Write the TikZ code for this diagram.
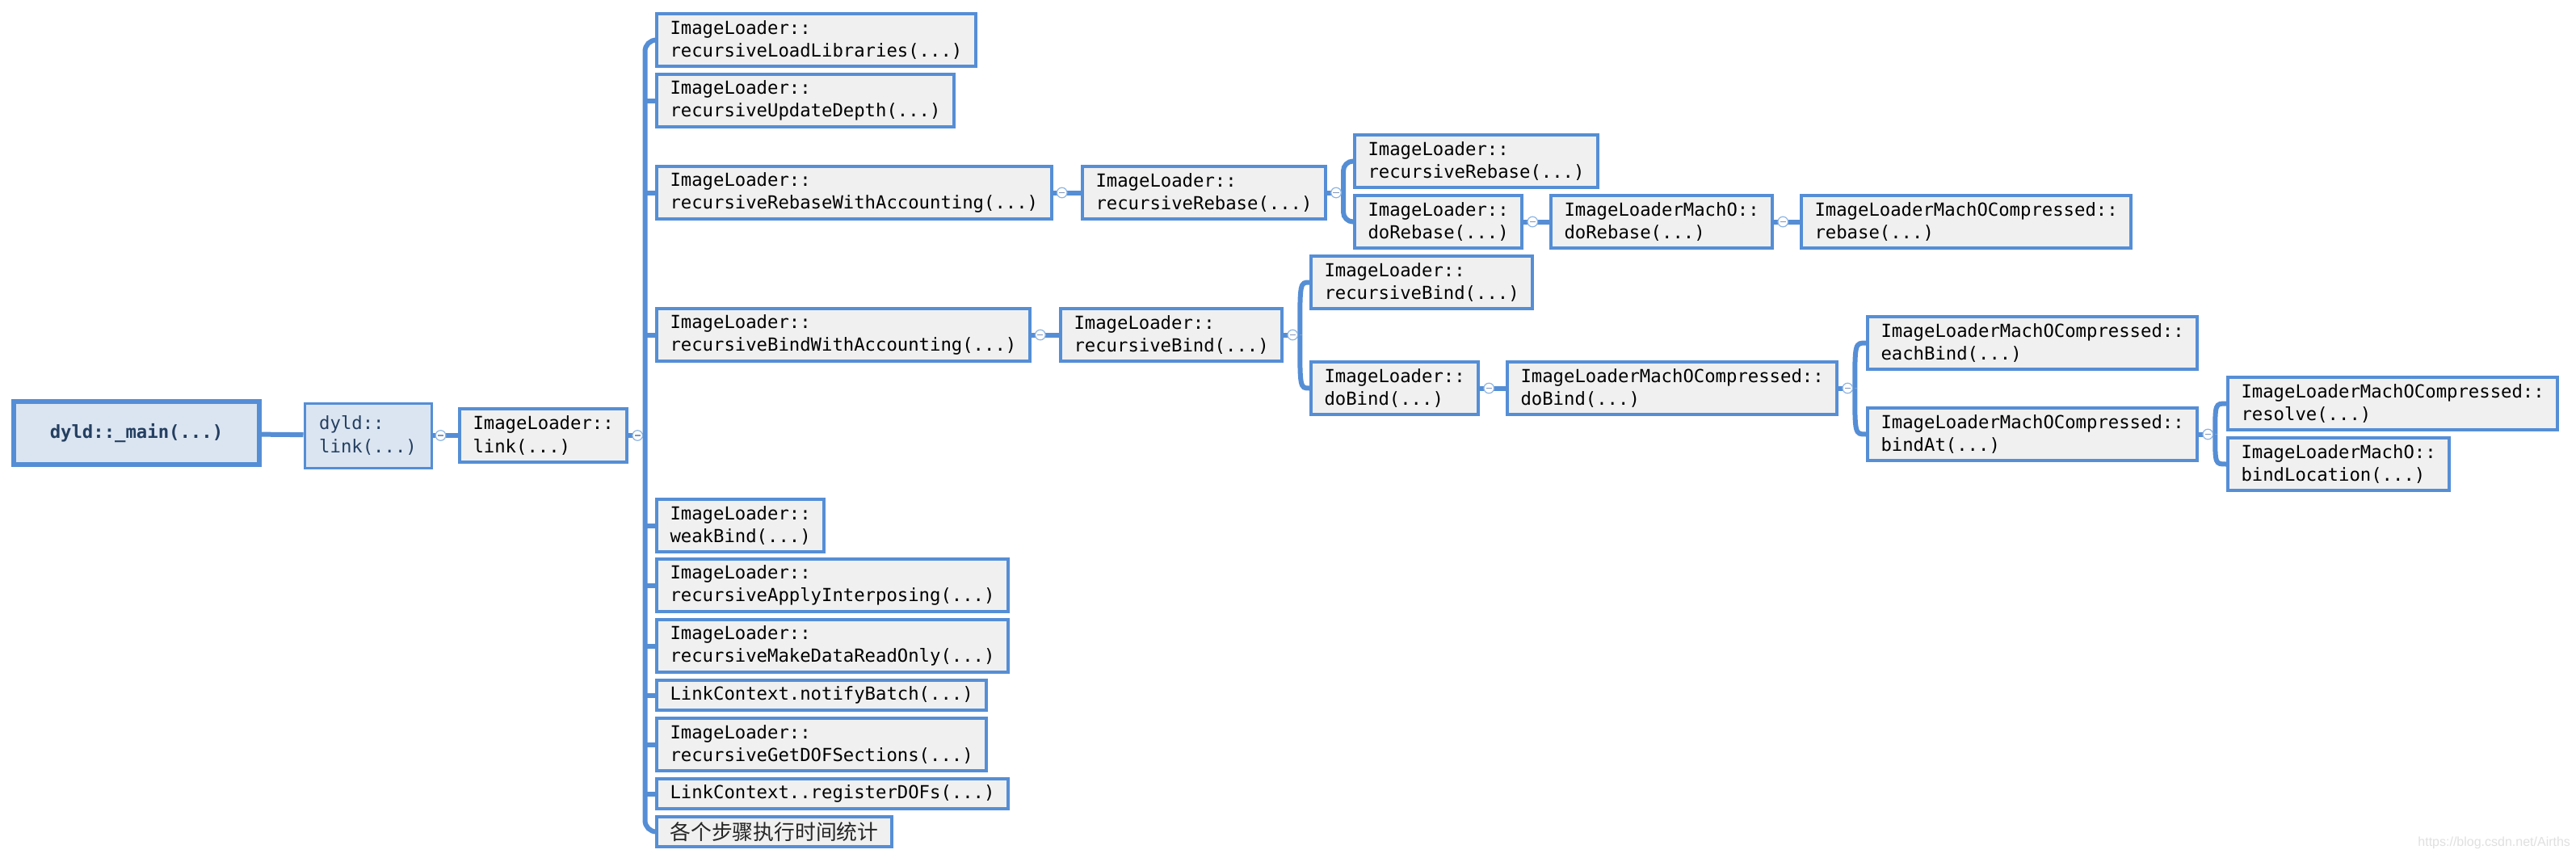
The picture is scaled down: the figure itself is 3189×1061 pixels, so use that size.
\documentclass[tikz,border=0pt]{standalone}
\usepackage{fontspec}
\setmonofont{DejaVu Sans Mono}
\setsansfont{Liberation Sans}
\newfontfamily\cjkfont{Noto Sans CJK SC}
\usetikzlibrary{calc}
\definecolor{bblue}{RGB}{85,142,213}
\definecolor{boxgray}{RGB}{240,240,240}
\definecolor{mainfill}{RGB}{219,229,241}
\definecolor{maintext}{RGB}{36,63,96}
\definecolor{mkblue}{RGB}{141,180,226}
\definecolor{mkminus}{RGB}{130,150,185}
\pgfdeclarelayer{back}
\pgfdeclarelayer{bg}
\pgfsetlayers{back,bg,main}
\tikzset{
  box/.style={draw=bblue, line width=2pt, fill=boxgray, anchor=north west, align=left,
    font=\ttfamily\fontsize{11.13}{14.15}\selectfont, inner xsep=8.25pt, inner ysep=1pt, text=black},
  two/.style={minimum height=32.5pt},
  one/.style={minimum height=18.5pt},
  conn/.style={draw=bblue, line width=3pt},
  mk/.style={circle, draw=mkblue, fill=white, line width=0.6pt, minimum size=6.3pt, inner sep=0pt,
    path picture={\draw[mkminus, line width=0.6pt]
      ([xshift=-1.8pt]path picture bounding box.center) -- ([xshift=1.8pt]path picture bounding box.center);}}
}
\begin{document}
\begin{tikzpicture}[x=0.5pt,y=-0.5pt]
\useasboundingbox (0,0) rectangle (3189,1061);
\begin{pgfonlayer}{back}
\fill[white] (0,0) rectangle (3189,1061);
\end{pgfonlayer}

% root chain
\node[draw=bblue, line width=3pt, fill=mainfill, text=maintext, font=\ttfamily\bfseries\fontsize{11.13}{14.15}\selectfont,
  minimum width=152pt, minimum height=39pt, inner sep=0pt] (main) at (169,536) {dyld::\_main(...)};
\node[box, draw=bblue, line width=1.5pt, fill=mainfill, text=maintext, minimum width=78.5pt, minimum height=40pt] (dyl) at (375.5,497.5) {dyld::\\link(...)};
\node[box, minimum height=33pt] (il) at (567,504) {ImageLoader::\\link(...)};

% first level children
\node[box,two] (c1) at (811,15) {ImageLoader::\\recursiveLoadLibraries(...)};
\node[box,two] (c2) at (811,90) {ImageLoader::\\recursiveUpdateDepth(...)};
\node[box,two] (c3) at (811,204) {ImageLoader::\\recursiveRebaseWithAccounting(...)};
\node[box,two] (c4) at (811,380) {ImageLoader::\\recursiveBindWithAccounting(...)};
\node[box,two] (c5) at (811,616) {ImageLoader::\\weakBind(...)};
\node[box,two] (c6) at (811,690) {ImageLoader::\\recursiveApplyInterposing(...)};
\node[box,two] (c7) at (811,765) {ImageLoader::\\recursiveMakeDataReadOnly(...)};
\node[box,one] (c8) at (811,840) {LinkContext.notifyBatch(...)};
\node[box,two] (c9) at (811,887) {ImageLoader::\\recursiveGetDOFSections(...)};
\node[box,one] (c10) at (811,962) {LinkContext..registerDOFs(...)};
\node[box,one, font=\cjkfont\fontsize{12.9}{15}\selectfont, text=black!85] (c11) at (811,1009) {各个步骤执行时间统计};

% rebase chain
\node[box,two] (r1) at (1338,204) {ImageLoader::\\recursiveRebase(...)};
\node[box,two] (r2) at (1675,165) {ImageLoader::\\recursiveRebase(...)};
\node[box,two] (r3) at (1675,240) {ImageLoader::\\doRebase(...)};
\node[box,two] (r4) at (1918,240) {ImageLoaderMachO::\\doRebase(...)};
\node[box,two] (r5) at (2228,240) {ImageLoaderMachOCompressed::\\rebase(...)};

% bind chain
\node[box,two] (b1) at (1311,380) {ImageLoader::\\recursiveBind(...)};
\node[box,two] (b2) at (1621,315) {ImageLoader::\\recursiveBind(...)};
\node[box,two] (b3) at (1621,446) {ImageLoader::\\doBind(...)};
\node[box,two] (b4) at (1864,446) {ImageLoaderMachOCompressed::\\doBind(...)};
\node[box,two] (b5) at (2310,390) {ImageLoaderMachOCompressed::\\eachBind(...)};
\node[box,two] (b6) at (2310,503) {ImageLoaderMachOCompressed::\\bindAt(...)};
\node[box,two] (b7) at (2756,465) {ImageLoaderMachOCompressed::\\resolve(...)};
\node[box,two] (b8) at (2756,540) {ImageLoaderMachO::\\bindLocation(...)};

% branch coordinates
\coordinate (brk) at (798.5,537);
\coordinate (rbk) at (1663,237);
\coordinate (bb1) at ($(b1.east)+(20,0)$);
\coordinate (bb2) at ($(b4.east)+(20,0)$);
\coordinate (bb3) at ($(b6.east)+(20,0)$);

\begin{pgfonlayer}{bg}
  \draw[conn] (main) -- (dyl);
  \draw[conn] (dyl) -- (il);
  \draw[conn] (il.center) -- (il.center -| brk);
  \draw[conn, rounded corners=7pt] (c1.center) -- (c1.center -| brk) -- (c11.center -| brk) -- (c11.center);
  \foreach \n in {c2,c3,c4,c5,c6,c7,c8,c9,c10} {
    \draw[conn] (\n.center -| brk) -- (\n.center);
  }
  % rebase
  \draw[conn] (c3) -- (r1);
  \draw[conn] (r1.center) -- (r1.center -| rbk);
  \draw[conn, rounded corners=6pt] (r2.center) -- (r2.center -| rbk) -- (r3.center -| rbk) -- (r3.center);
  \draw[conn] (r3) -- (r4);
  \draw[conn] (r4) -- (r5);
  % bind
  \draw[conn] (c4) -- (b1);
  \draw[conn] (b1.center) -- (bb1);
  \draw[conn] (bb1) .. controls (bb1 |- b2.west) .. (b2.west);
  \draw[conn] (bb1) .. controls (bb1 |- b3.west) .. (b3.west);
  \draw[conn] (b3) -- (b4);
  \draw[conn] (b4.center) -- (bb2);
  \draw[conn] (bb2) .. controls (bb2 |- b5.west) .. (b5.west);
  \draw[conn] (bb2) .. controls (bb2 |- b6.west) .. (b6.west);
  \draw[conn] (b6.center) -- (bb3);
  \draw[conn] (bb3) .. controls (bb3 |- b7.west) .. (b7.west);
  \draw[conn] (bb3) .. controls (bb3 |- b8.west) .. (b8.west);
\end{pgfonlayer}

% collapse markers
\node[mk] (m1) at ($(dyl.east)+(10,0)$) {};
\node[mk] (m2) at ($(il.east)+(11,0)$) {};
\node[mk] (m3) at ($(c3.east)+(11,0)$) {};
\node[mk] (m4) at ($(r1.east)+(11,0)$) {};
\node[mk] (m5) at ($(r3.east)+(11,0)$) {};
\node[mk] (m6) at ($(r4.east)+(11,0)$) {};
\node[mk] (m7) at ($(c4.east)+(11,0)$) {};
\node[mk] (m8) at ($(b1.east)+(11,0)$) {};
\node[mk] (m9) at ($(b3.east)+(11,0)$) {};
\node[mk] (m10) at ($(b4.east)+(11,0)$) {};
\node[mk] (m11) at ($(b6.east)+(11,0)$) {};

% watermark
\node[anchor=west, font=\sffamily\fontsize{8}{9}\selectfont, text=black!12, inner sep=0pt] (wm) at (2993,1043) {https://blog.csdn.net/Airths};
\end{tikzpicture}
\end{document}
